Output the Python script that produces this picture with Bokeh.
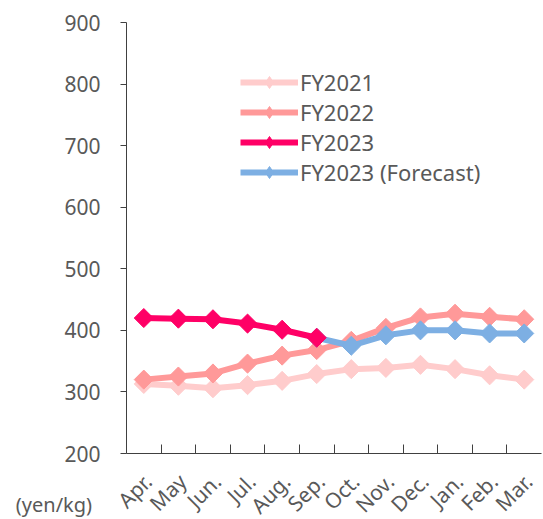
import math
from bokeh.plotting import figure
from bokeh.models import (LinearAxis, FixedTicker, Range1d, Legend, LegendItem, Label,
                          ColumnDataSource)
from bokeh.embed import file_html
from bokeh.resources import INLINE

months = ["Apr.", "May", "Jun.", "Jul.", "Aug.", "Sep.", "Oct.", "Nov.", "Dec.", "Jan.", "Feb.", "Mar."]
fy2021 = [313, 310, 306, 311, 318, 329, 337, 339, 344, 337, 327, 320]
fy2022 = [320, 325, 330, 346, 359, 368, 383, 404, 421, 427, 422, 418]
fy2023 = [420, 419, 418, 411, 401, 388]
fy2023_forecast = [388, 375, 392, 400, 400, 395, 395]  # Sep. .. Mar.
y_ticks = [200, 300, 400, 500, 600, 700, 800, 900]
unit_label = "(yen/kg)"

FONT = "Noto Sans"
TXT = "#595959"
AX = "#404040"

x_all = [i + 0.5 for i in range(len(months))]
x_23 = x_all[:len(fy2023)]
x_fc = x_all[len(months) - len(fy2023_forecast):]

p = figure(frame_width=415, frame_height=431, min_border_left=126, min_border_top=22,
           min_border_right=2, min_border_bottom=64,
           x_range=Range1d(0, len(months)), y_range=Range1d(200, 900),
           x_axis_location=None, y_axis_location=None,
           output_backend="svg", toolbar_location=None)
p.outline_line_color = None
p.xgrid.visible = False
p.ygrid.visible = False
p.background_fill_color = "white"
p.border_fill_color = "white"

# y axis
yax = LinearAxis(ticker=FixedTicker(ticks=y_ticks))
yax.major_tick_out = 6
yax.major_tick_in = 0
yax.minor_tick_line_color = None
yax.axis_line_color = AX
yax.major_tick_line_color = AX
yax.major_label_text_font = FONT
yax.major_label_text_font_size = "21px"
yax.major_label_text_color = TXT
yax.major_label_standoff = 20
p.add_layout(yax, "left")

# x tick marks at category boundaries
bounds = list(range(1, len(months)))
xt = LinearAxis(ticker=FixedTicker(ticks=bounds),
                major_label_overrides={b: "" for b in bounds})
xt.major_tick_in = 9
xt.major_tick_out = 0
xt.minor_tick_line_color = None
xt.axis_line_color = AX
xt.major_tick_line_color = AX
xt.major_label_standoff = 0
p.add_layout(xt, "below")

# x labels near category centres
lab_pos = [x + 0.12 for x in x_all]
xl = LinearAxis(ticker=FixedTicker(ticks=lab_pos),
                major_label_overrides={x: m for x, m in zip(lab_pos, months)})
xl.axis_line_color = None
xl.major_tick_line_color = None
xl.minor_tick_line_color = None
xl.major_tick_out = 0
xl.major_tick_in = 0
xl.major_label_standoff = 24
xl.major_label_orientation = math.pi / 4
xl.major_label_text_font = FONT
xl.major_label_text_font_size = "21px"
xl.major_label_text_line_height = 0.8
xl.major_label_text_color = TXT
p.add_layout(xl, "below")

series = [
    ("FY2021", x_all, fy2021, "#FFCCCC"),
    ("FY2022", x_all, fy2022, "#FF9999"),
    ("FY2023 (Forecast)", x_fc, fy2023_forecast, "#7DAFE3"),
    ("FY2023", x_23, fy2023, "#FF0066"),
]
items = {}
for name, xs, ys, col in series:
    l = p.line(xs, ys, line_color=col, line_width=6)
    p.scatter(xs, ys, marker="square", angle=math.pi / 4, size=13.5,
              fill_color=col, line_color=col)
    lsrc = ColumnDataSource(data=dict(x=[float("nan")], y=[float("nan")]))
    lg = p.scatter("x", "y", source=lsrc, marker="diamond", size=16,
                   fill_color=col, line_color=col)
    items[name] = [l, lg]

legend = Legend(items=[LegendItem(label=n, renderers=items[n])
                       for n in ["FY2021", "FY2022", "FY2023", "FY2023 (Forecast)"]],
                location=(114, 266))
legend.label_text_font = FONT
legend.label_text_font_size = "22px"
legend.label_text_color = TXT
legend.label_standoff = 2
legend.glyph_width = 58
legend.glyph_height = 30
legend.spacing = -1
legend.padding = 0
legend.margin = 0
legend.border_line_color = None
legend.background_fill_alpha = 0
p.add_layout(legend, "center")

p.add_layout(Label(x=-3.2, y=117, x_units="data", y_units="data", text=unit_label,
                   text_font=FONT, text_font_size="20px", text_color=TXT,
                   text_baseline="alphabetic"), "below")

open("out.html", "w").write(file_html(p, INLINE))
